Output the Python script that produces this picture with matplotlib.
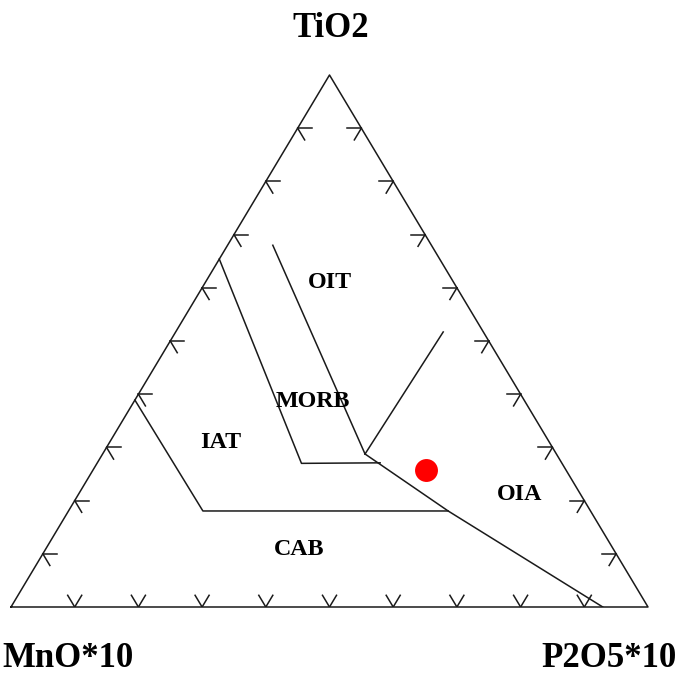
import numpy as np
import matplotlib
matplotlib.use("Agg")
import matplotlib.pyplot as plt

# MnO*10 - TiO2 - P2O5*10 discrimination diagram (Mullen 1983 fields)
# every point is (TiO2 fraction, P2O5*10 fraction); MnO*10 = 1 - the rest

# field boundaries
morb_left = [(0.654, 0.000), (0.270, 0.321), (0.271, 0.444)]
oit_morb = [(0.680, 0.071), (0.2876, 0.412)]
oit_oia = [(0.2876, 0.412), (0.517, 0.420)]
oia_edge = [(0.2876, 0.412), (0.1805, 0.596), (0.000, 0.929)]
iat_cab = [(0.389, 0.000), (0.1805, 0.211), (0.1805, 0.596)]

field_names = ["OIT", "MORB", "IAT", "OIA", "CAB"]
field_pos = [(0.610, 0.196), (0.386, 0.2816), (0.310, 0.1747),
             (0.2124, 0.693), (0.1085, 0.398)]

# sample composition (TiO2, MnO*10, P2O5*10), normalised
sample_ti = [0.2575]
sample_mn = [0.2198]
sample_p = [0.5227]

tick_steps = np.arange(1, 10) / 10.0
tick_len = 0.022


def to_xy(t, p):
    t = np.asarray(t, dtype=float)
    p = np.asarray(p, dtype=float)
    return p + t / 2.0, t


fig = plt.figure(figsize=(6.85, 6.77), dpi=100)
ax = fig.add_axes([11 / 685, 70 / 677, 637 / 685, 532 / 677])
ax.set_xlim(0, 1)
ax.set_ylim(0, 1)
ax.axis("off")

lc = "#1a1a1a"
lw = 1.1

# outer triangle
x, y = to_xy([0, 1, 0, 0], [0, 0, 1, 0])
ax.plot(x, y, color=lc, lw=lw, clip_on=False)

# tick marks every 10 %, two short stubs pointing inside along the other grids
for s in tick_steps:
    # bottom edge (TiO2 = 0)
    for t, p in [(tick_len, s), (tick_len, s - tick_len)]:
        x, y = to_xy([0, t], [s, p])
        ax.plot(x, y, color=lc, lw=lw)
    # left edge (P2O5 = 0)
    for t, p in [(s, tick_len), (s - tick_len, tick_len)]:
        x, y = to_xy([s, t], [0, p])
        ax.plot(x, y, color=lc, lw=lw)
    # right edge (MnO = 0)
    for t, p in [(s, 1 - s - tick_len), (s - tick_len, 1 - s)]:
        x, y = to_xy([s, t], [1 - s, p])
        ax.plot(x, y, color=lc, lw=lw)

# field boundaries
for line in [morb_left, oit_morb, oit_oia, oia_edge, iat_cab]:
    t, p = zip(*line)
    x, y = to_xy(t, p)
    ax.plot(x, y, color=lc, lw=lw)

serif = ["Liberation Serif", "DejaVu Serif"]
for name, (t, p) in zip(field_names, field_pos):
    x, y = to_xy(t, p)
    ax.text(x, y, name, ha="center", va="center", fontsize=17.3,
            fontweight="bold", family=serif)

# sample
x, y = to_xy(sample_ti, sample_p)
ax.plot(x, y, "o", color="red", markersize=16.5, markeredgewidth=0)

# corner labels
fig.text(331 / 685, 1 - 37 / 677, "TiO2", ha="center", va="baseline",
         fontsize=25, fontweight="bold", family=serif)
fig.text(2 / 685, 1 - 667 / 677, "MnO*10", ha="left", va="baseline",
         fontsize=25, fontweight="bold", family=serif)
fig.text(609 / 685, 1 - 667 / 677, "P2O5*10", ha="center", va="baseline",
         fontsize=25, fontweight="bold", family=serif)

fig.savefig("out.png", dpi=100, facecolor="white")
